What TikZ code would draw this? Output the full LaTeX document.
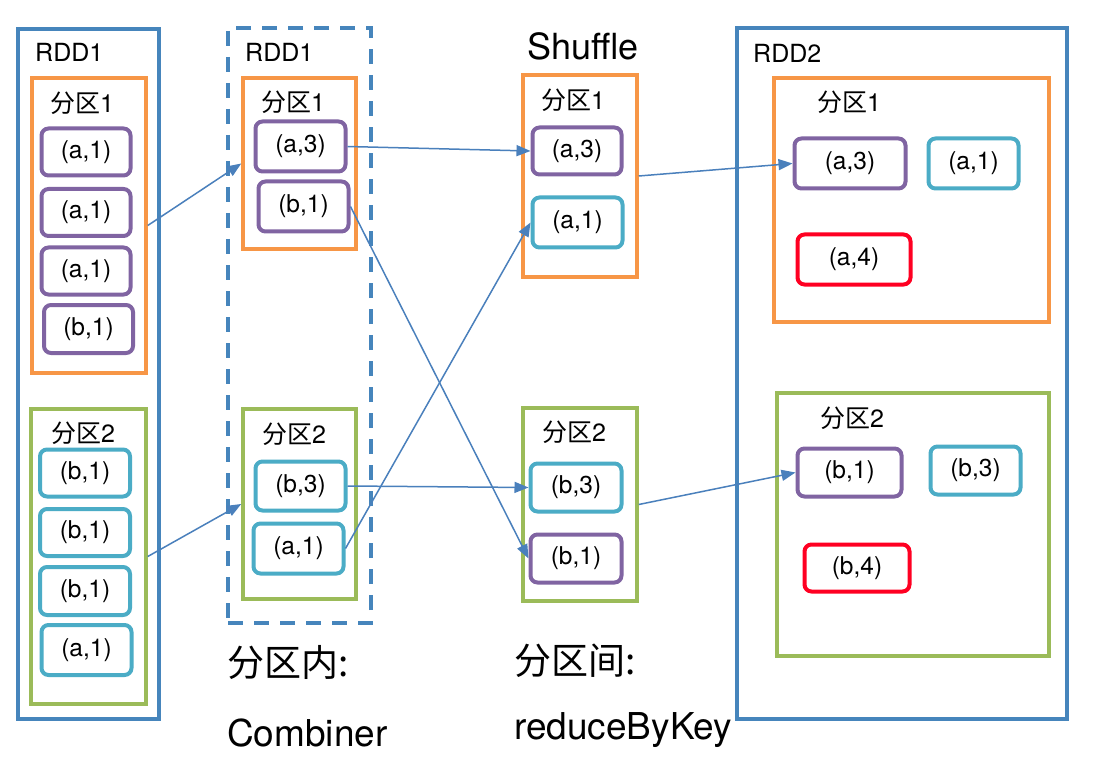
\documentclass[tikz,border=0pt]{standalone}
\usepackage{fontspec}
\setmainfont{TeX Gyre Heros}
\newfontfamily\cjkf{Noto Sans CJK SC}
\usetikzlibrary{arrows.meta}
\definecolor{rddblue}{HTML}{4685BC}
\definecolor{porange}{HTML}{F79646}
\definecolor{pgreen}{HTML}{9BBB59}
\definecolor{ppurple}{HTML}{8064A2}
\definecolor{pcyan}{HTML}{4BACC6}
\definecolor{pred}{HTML}{FF0022}
\definecolor{arrowblue}{HTML}{4A80BC}
\tikzset{
  sz/.style 2 args={minimum width=#1pt, minimum height=#2pt},
  container/.style={draw, line width=3.5pt, inner sep=0pt},
  rddbox/.style={container, draw=rddblue, line width=4pt},
  rdddash/.style={container, draw=rddblue, line width=4pt, dash pattern=on 15pt off 11pt},
  obox/.style={container, draw=porange},
  gbox/.style={container, draw=pgreen},
  kv/.style={draw, rounded corners=7pt, line width=4pt, fill=white, inner sep=0pt,
             font=\fontsize{24.5}{27}\selectfont},
  pv/.style={kv, draw=ppurple},
  cv/.style={kv, draw=pcyan},
  rv/.style={kv, draw=pred},
  lbl/.style={font=\fontsize{25}{28}\selectfont, inner sep=0pt, anchor=west},
  part/.style={font=\fontsize{25}{28}\selectfont, inner sep=0pt},
  big/.style={font=\fontsize{37}{40}\selectfont, inner sep=0pt, anchor=west},
  flow/.style={draw=arrowblue, line width=1.5pt, -{Triangle[length=14pt,width=11pt]}}
}
\begin{document}
\begin{tikzpicture}[x=1pt,y=-1pt]
\useasboundingbox (0,0) rectangle (1095,762);
\fill[white] (0,0) rectangle (1095,762);

% ---------- left RDD1 ----------
\node[rddbox, sz={141}{690}] (lrdd) at (88.5,374) {};
\node[lbl] (lrddl) at (35,52) {RDD1};
\node[obox, sz={114}{295}] (lo) at (89,225.5) {};
\node[part] (lop) at (82,103) {{\cjkf 分区}1};
\node[pv, sz={89}{47}] (l1) at (86,152) {(a,1)};
\node[pv, sz={89}{47}] (l2) at (86,212.5) {(a,1)};
\node[pv, sz={89}{47}] (l3) at (86,271) {(a,1)};
\node[pv, sz={89}{48}] (l4) at (88.5,329) {(b,1)};
\node[gbox, sz={115}{295}] (lg) at (88.5,556.5) {};
\node[part] (lgp) at (83,433) {{\cjkf 分区}2};
\node[cv, sz={90}{47}] (l5) at (85,473) {(b,1)};
\node[cv, sz={90}{47}] (l6) at (85,532.5) {(b,1)};
\node[cv, sz={90}{48}] (l7) at (85,591) {(b,1)};
\node[cv, sz={90}{50}] (l8) at (86.5,650) {(a,1)};

% ---------- middle RDD1 (combiner) ----------
\node[rdddash, sz={143}{595}] (mrdd) at (299.5,325.5) {};
\node[lbl] (mrddl) at (245,52) {RDD1};
\node[obox, sz={113}{171}] (mo) at (299.5,163.5) {};
\node[part] (mop) at (293,102) {{\cjkf 分区}1};
\node[pv, sz={90}{50}] (ma3) at (300.5,146.5) {(a,3)};
\node[pv, sz={90}{50}] (mb1) at (303.5,206.5) {(b,1)};
\node[gbox, sz={113}{190}] (mg) at (299.5,504) {};
\node[part] (mgp) at (294,434) {{\cjkf 分区}2};
\node[cv, sz={90}{49}] (mb3) at (300.5,486) {(b,3)};
\node[cv, sz={90}{50}] (ma1) at (298.5,548.5) {(a,1)};
\node[big] (inner1) at (227,662) {\cjkf 分区内:};
\node[big] (inner2) at (227,733) {Combiner};

% ---------- shuffle ----------
\node[font=\fontsize{36}{40}\selectfont, inner sep=0pt] (shuf) at (583,46) {Shuffle};
\node[obox, sz={114}{202}] (so) at (580,176) {};
\node[part] (sop) at (573,100) {{\cjkf 分区}1};
\node[pv, sz={89}{47}] (sa3) at (577,151) {(a,3)};
\node[cv, sz={90}{50}] (sa1) at (577.5,222.5) {(a,1)};
\node[gbox, sz={114}{193}] (sg) at (580,504.5) {};
\node[part] (sgp) at (574,432) {{\cjkf 分区}2};
\node[cv, sz={91}{48}] (sb3) at (576,487.5) {(b,3)};
\node[pv, sz={91}{48}] (sb1) at (576,558.5) {(b,1)};
\node[big] (outer1) at (514,661) {\cjkf 分区间:};
\node[big] (outer2) at (514,730) {reduceByKey};

% ---------- RDD2 ----------
\node[rddbox, sz={330}{691}] (rrdd) at (902,373.5) {};
\node[lbl] (rrddl) at (753,53) {RDD2};
\node[obox, sz={275}{244}] (ro) at (911.5,200) {};
\node[part] (rop) at (849,102) {{\cjkf 分区}1};
\node[pv, sz={111}{50}] (ra3) at (850,163.5) {(a,3)};
\node[cv, sz={90}{50}] (ra1) at (973.5,163.5) {(a,1)};
\node[rv, sz={113}{50}] (ra4) at (854,259.5) {(a,4)};
\node[gbox, sz={272}{263}] (rg) at (913,524.5) {};
\node[part] (rgp) at (852,418) {{\cjkf 分区}2};
\node[pv, sz={104}{48}] (rb1) at (849.5,472.5) {(b,1)};
\node[cv, sz={90}{48}] (rb3) at (975.5,470.5) {(b,3)};
\node[rv, sz={105}{47}] (rb4) at (857,568) {(b,4)};

% ---------- connectors ----------
\draw[flow] (lo.east) -- (mo.west);
\draw[flow] (lg.east) -- (mg.west);
\draw[flow] (ma3.east) -- (sa3.west);
\draw[flow] (mb1.east) -- (sb1.west);
\draw[flow] (mb3.east) -- (sb3.west);
\draw[flow] (ma1.east) -- (sa1.west);
\draw[flow] (so.east) -- (ra3.west);
\draw[flow] (sg.east) -- (rb1.west);
\end{tikzpicture}
\end{document}
